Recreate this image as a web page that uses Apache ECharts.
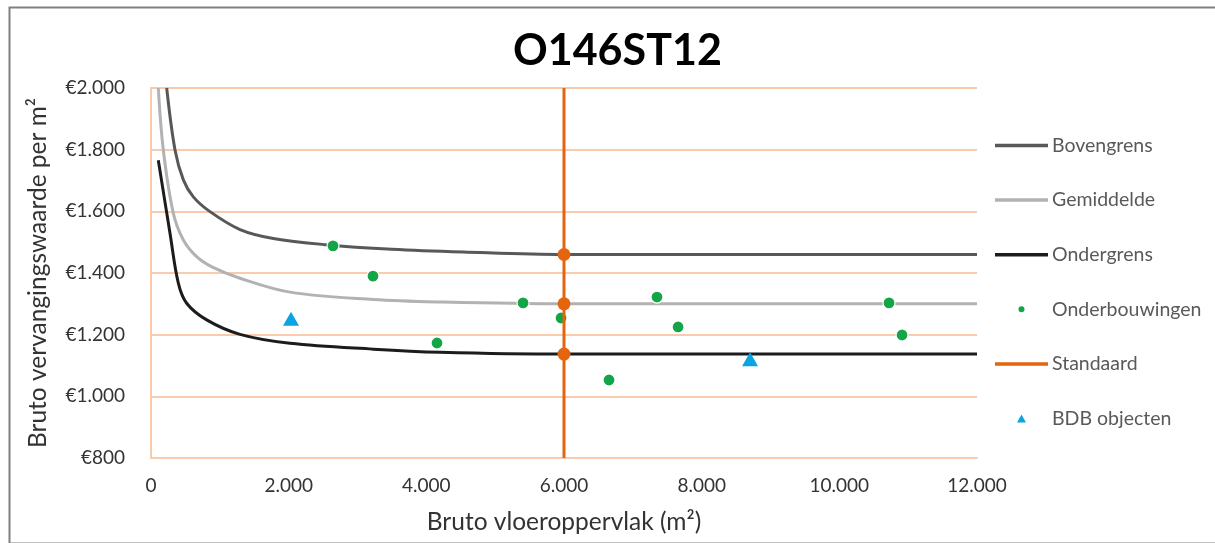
<!DOCTYPE html>
<html>
<head>
<meta charset="utf-8">
<script src="https://cdn.jsdelivr.net/npm/echarts@6/dist/echarts.min.js"></script>
<style>
html,body{margin:0;padding:0;background:#fff;}
#chart{width:1215px;height:543px;}
</style>
</head>
<body>
<div id="chart"></div>
<script>
// --- data ---
var titleText = 'O146ST12';
var xTicks = [0, 2000, 4000, 6000, 8000, 10000, 12000];
var yTicks = [800, 1000, 1200, 1400, 1600, 1800, 2000];

var bovengrens = [[228,2000],[349,1799],[470,1702],[615,1647],[857,1599],[1293,1541],[1777,1512],[2528,1492],[3500,1477],[4533,1468],[6000,1460],[8000,1460],[10000,1460],[12000,1460]];
var gemiddelde = [[106,2000],[179,1799],[324,1594],[470,1507],[663,1453],[900,1418],[1293,1383],[2019,1338],[3230,1314],[4199,1306],[6000,1300],[8000,1300],[10000,1300],[12000,1300]];
var ondergrens = [[106,1766],[276,1529],[397,1367],[518,1302],[809,1248],[1293,1201],[2019,1172],[3230,1153],[4199,1143],[6000,1137],[8000,1137],[10000,1137],[12000,1137]];
var onderbouwingen = [[2644,1488],[3225,1390],[4155,1173],[5405,1303],[5957,1254],[6654,1053],[7351,1322],[7657,1225],[10722,1303],[10911,1199]];
var standaardX = 6000;
var standaardLine = [800, 2000];
var standaardPoints = [1137, 1300, 1460];
var bdbObjecten = [[2034,1252],[8703,1120]];

var names = ['Bovengrens','Gemiddelde','Ondergrens','Onderbouwingen','Standaard','BDB objecten'];

function fmtThousands(v){
  return String(v).replace(/\B(?=(\d{3})+(?!\d))/g,'.');
}

var standaardData = [[standaardX, standaardLine[0]]];
standaardPoints.forEach(function(p){
  standaardData.push({value:[standaardX,p], symbol:'circle', symbolSize:13});
});
standaardData.push([standaardX, standaardLine[1]]);

var lineIcon = 'path://M0,0L53,0L53,3.5L0,3.5Z';
var triIcon = 'path://M5,0L10,9L0,9Z';

var font = 'Lato, "Open Sans", sans-serif';
var chart = echarts.init(document.getElementById('chart'));
chart.setOption({
  animation:false,
  backgroundColor:'#fff',
  textStyle:{fontFamily:font},
  graphic:[{
    type:'rect', left:7, top:5,
    shape:{width:1215, height:536},
    style:{fill:'none', stroke:'#808080', lineWidth:2},
    silent:true, z:-10
  }],
  title:{
    text:titleText, left:513, top:30, padding:0,
    textStyle:{fontFamily:font, fontSize:43, fontWeight:'bold', color:'#000'}
  },
  grid:{left:151, right:238, top:88, bottom:85, containLabel:false},
  legend:{
    orient:'vertical', left:995, top:134, padding:0,
    itemWidth:53, itemHeight:8, itemGap:31.6, symbolKeepAspect:true,
    data:[
      {name:'Bovengrens', icon:lineIcon},
      {name:'Gemiddelde', icon:lineIcon},
      {name:'Ondergrens', icon:lineIcon},
      {name:'Onderbouwingen', icon:'circle'},
      {name:'Standaard', icon:lineIcon},
      {name:'BDB objecten', icon:triIcon}
    ],
    textStyle:{fontFamily:font, fontSize:19.5, color:'#595959', lineHeight:23, padding:[0,0,0,-1]},
    selectedMode:false
  },
  xAxis:{
    type:'value', min:0, max:12000, interval:2000,
    axisLine:{show:true, lineStyle:{color:'#F8CBAD', width:2}},
    axisTick:{show:false},
    splitLine:{show:false},
    axisLabel:{color:'#333', fontSize:19, margin:18, formatter:function(v){return fmtThousands(v);}},
    name:'Bruto vloeroppervlak (m²)', nameLocation:'middle', nameGap:52,
    nameTextStyle:{color:'#333', fontSize:24.5, fontFamily:font}
  },
  yAxis:{
    type:'value', min:800, max:2000, interval:200,
    axisLine:{show:true, lineStyle:{color:'#F8CBAD', width:2}},
    axisTick:{show:false},
    splitLine:{show:true, lineStyle:{color:'#F8CBAD', width:2}},
    axisLabel:{color:'#333', fontSize:19, margin:26, formatter:function(v){return '€' + fmtThousands(v);}},
    name:'Bruto vervangingswaarde per m²', nameLocation:'middle', nameGap:100,
    nameTextStyle:{color:'#333', fontSize:24.5, fontFamily:font}
  },
  series:[
    {name:'Bovengrens', type:'line', data:bovengrens, smooth:0.35, symbol:'none', clip:true,
      lineStyle:{color:'#58585A', width:3}, itemStyle:{color:'#58585A'}, z:3},
    {name:'Gemiddelde', type:'line', data:gemiddelde, smooth:0.35, symbol:'none', clip:true,
      lineStyle:{color:'#B2B2B2', width:3}, itemStyle:{color:'#B2B2B2'}, z:3},
    {name:'Ondergrens', type:'line', data:ondergrens, smooth:0.35, symbol:'none', clip:true,
      lineStyle:{color:'#1C1C1C', width:3}, itemStyle:{color:'#1C1C1C'}, z:3},
    {name:'Onderbouwingen', type:'scatter', data:onderbouwingen, symbol:'circle', symbolSize:12,
      itemStyle:{color:'#13A547', borderColor:'#fff', borderWidth:1.2, opacity:1}, z:5},
    {name:'Standaard', type:'line', data:standaardData, symbol:'none', showSymbol:true,
      lineStyle:{color:'#E5650F', width:3}, itemStyle:{color:'#E5650F'}, z:6},
    {name:'BDB objecten', type:'scatter', data:bdbObjecten, symbol:'triangle', symbolSize:[16,14],
      itemStyle:{color:'#0AA5E0', opacity:1}, z:5}
  ]
});
</script>
</body>
</html>
